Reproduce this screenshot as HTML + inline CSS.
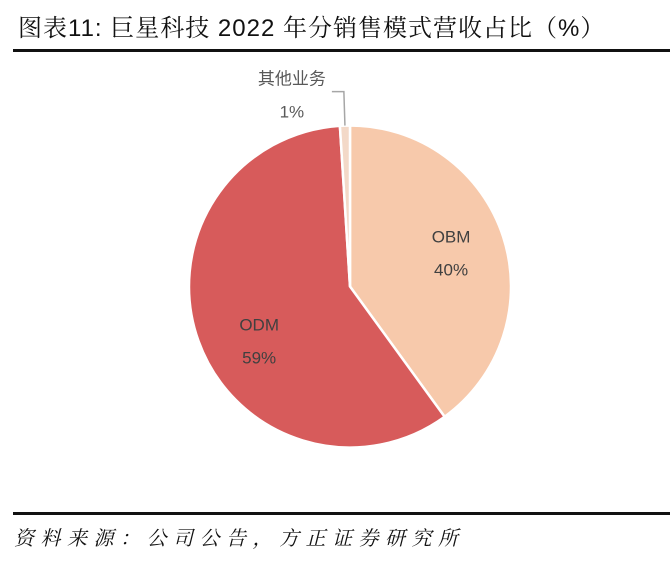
<!DOCTYPE html>
<html><head><meta charset="utf-8"><style>
body{margin:0;background:#fff;width:672px;height:565px;overflow:hidden;position:relative;font-family:"Liberation Sans","Noto Sans CJK SC",sans-serif}
.t{position:absolute;left:18px;top:8px;font-size:24px;color:#111;font-family:"Liberation Sans","Noto Serif CJK SC",serif;letter-spacing:1px}
.l{position:absolute;left:13px;width:657px;height:3px;background:#111}
.f{position:absolute;left:14px;top:522px;font-size:20px;font-style:italic;color:#111;font-family:"Liberation Serif","Noto Serif CJK SC",serif;letter-spacing:6.5px}
</style></head><body>
<div class="t">图表11: 巨星科技 2022 年分销售模式营收占比（%）</div>
<div class="l" style="top:49px"></div>
<svg id="c" width="672" height="565" style="position:absolute;left:0;top:0"></svg>
<div class="l" style="top:512px"></div>
<div class="f">资料来源：公司公告，方正证券研究所</div>
<script>
const categories=["OBM","ODM","其他业务"];
const values=[40,59,1];
const labels=["40%","59%","1%"];
const colors=["#f7c9ab","#d75b5b","#f3d9c8"];
const svg=document.getElementById('c');const NS="http://www.w3.org/2000/svg";
const cx=350,cy=286.5,r=161;
const total=values.reduce((a,b)=>a+b,0);
let a0=0;
function pt(a,rr){return [cx+rr*Math.sin(a),cy-rr*Math.cos(a)];}
values.forEach((v,i)=>{
  const a1=a0+v/total*2*Math.PI;
  const p0=pt(a0,r),p1=pt(a1,r);
  const path=document.createElementNS(NS,'path');
  path.setAttribute('d',`M${cx},${cy}L${p0[0]},${p0[1]}A${r},${r} 0 ${a1-a0>Math.PI?1:0} 1 ${p1[0]},${p1[1]}Z`);
  path.setAttribute('fill',colors[i]);path.setAttribute('stroke','#fff');path.setAttribute('stroke-width','2.5');
  
  
  svg.appendChild(path);
  const mid=(a0+a1)/2;
  let lx,ly;
  if(i<2){const p=pt(mid-(i==1?0.2:0),r*0.66);lx=p[0];ly=p[1];}
  else{
    const e=pt(mid,r),k=pt(mid,r+34);
    const ln=document.createElementNS(NS,'polyline');
    ln.setAttribute('points',`${e[0]},${e[1]} ${k[0]},${k[1]} ${k[0]-12},${k[1]}`);
    ln.setAttribute('fill','none');ln.setAttribute('stroke','#a6a6a6');ln.setAttribute('stroke-width','1.5');
    
    
    svg.appendChild(ln);
    lx=k[0]-52;ly=k[1]+4;
  }
  [[categories[i],-17],[labels[i],16]].forEach(([s,dy],j)=>{
    const t=document.createElementNS(NS,'text');
    t.setAttribute('x',lx);t.setAttribute('y',ly+dy+6);t.setAttribute('text-anchor','middle');
    t.setAttribute('font-size','17');t.setAttribute('fill',i==2?'#595959':'#404040');
    t.textContent=s;
    
    
    svg.appendChild(t);
  });
  a0=a1;
});
</script>
</body></html>
